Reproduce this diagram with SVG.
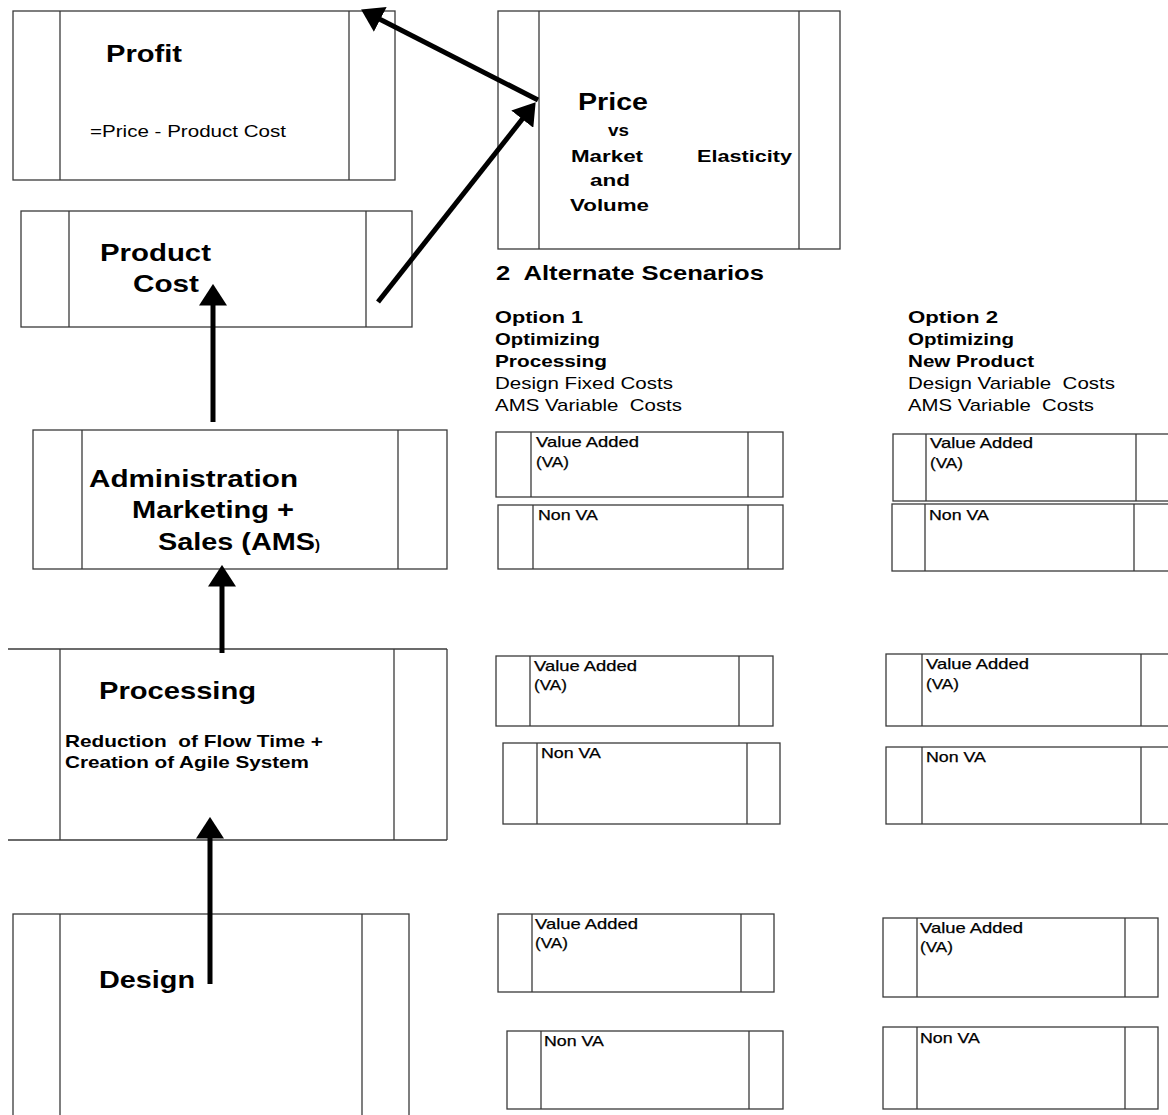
<svg xmlns="http://www.w3.org/2000/svg" width="1168" height="1115" viewBox="0 0 1168 1115">
<style>
.box{fill:none;stroke:#3a3a3a;stroke-width:1.3}
.t{font-family:"Liberation Sans",Arial,sans-serif;fill:#000;white-space:pre}
.b{font-weight:bold}
.h{font-size:24px;font-weight:bold}
.m{font-size:17px}
.s{font-size:15px;stroke:#000;stroke-width:0.25}
.arr{stroke:#000;stroke-width:5;fill:none;marker-end:url(#ah)}
</style>
<defs>
<marker id="ah" markerUnits="userSpaceOnUse" markerWidth="22" markerHeight="28" viewBox="0 0 20 26" refX="6" refY="13" orient="auto">
<path d="M0,0 L20,13 L0,26 z" fill="#000"/>
</marker>
</defs>
<rect width="1168" height="1115" fill="#fff"/>

<g id="profit">
<rect class="box" x="13" y="11" width="382" height="169"/>
<line class="box" x1="60" y1="11" x2="60" y2="180"/>
<line class="box" x1="349" y1="11" x2="349" y2="180"/>
<text class="t h" x="106" y="62" textLength="76" lengthAdjust="spacingAndGlyphs">Profit</text>
<text class="t m" x="90" y="137" textLength="196" lengthAdjust="spacingAndGlyphs">=Price - Product Cost</text>
</g>

<g id="price">
<rect class="box" x="498" y="11" width="342" height="238"/>
<line class="box" x1="539" y1="11" x2="539" y2="249"/>
<line class="box" x1="799" y1="11" x2="799" y2="249"/>
<text class="t h" x="578" y="110" textLength="70" lengthAdjust="spacingAndGlyphs">Price</text>
<text class="t m b" x="608" y="136" textLength="21" lengthAdjust="spacingAndGlyphs">vs</text>
<text class="t m b" x="571" y="162" textLength="72" lengthAdjust="spacingAndGlyphs">Market</text>
<text class="t m b" x="590" y="186" textLength="40" lengthAdjust="spacingAndGlyphs">and</text>
<text class="t m b" x="570" y="211" textLength="79" lengthAdjust="spacingAndGlyphs">Volume</text>
<text class="t m b" x="697" y="162" textLength="95" lengthAdjust="spacingAndGlyphs">Elasticity</text>
</g>

<g id="scenarios-title">
<text class="t b" font-size="20" x="496" y="280" textLength="268" lengthAdjust="spacingAndGlyphs">2  Alternate Scenarios</text>
</g>

<g id="product-cost">
<rect class="box" x="21" y="211" width="391" height="116"/>
<line class="box" x1="69" y1="211" x2="69" y2="327"/>
<line class="box" x1="366" y1="211" x2="366" y2="327"/>
<text class="t h" x="100" y="261" textLength="111" lengthAdjust="spacingAndGlyphs">Product</text>
<text class="t h" x="133" y="292" textLength="66" lengthAdjust="spacingAndGlyphs">Cost</text>
</g>

<g id="ams">
<rect class="box" x="33" y="430" width="414" height="139"/>
<line class="box" x1="82" y1="430" x2="82" y2="569"/>
<line class="box" x1="398" y1="430" x2="398" y2="569"/>
<text class="t h" x="89" y="487" textLength="209" lengthAdjust="spacingAndGlyphs">Administration</text>
<text class="t h" x="132" y="518" textLength="162" lengthAdjust="spacingAndGlyphs">Marketing +</text>
<text class="t h" x="158" y="550" textLength="157" lengthAdjust="spacingAndGlyphs">Sales (AMS</text>
<text class="t b" font-size="15" x="315" y="550">)</text>
</g>

<g id="processing">
<line class="box" x1="8" y1="649" x2="447" y2="649"/>
<line class="box" x1="8" y1="840" x2="447" y2="840"/>
<line class="box" x1="60" y1="649" x2="60" y2="840"/>
<line class="box" x1="394" y1="649" x2="394" y2="840"/>
<line class="box" x1="447" y1="649" x2="447" y2="840"/>
<text class="t h" x="99" y="699" textLength="157" lengthAdjust="spacingAndGlyphs">Processing</text>
<text class="t m b" x="65" y="747" textLength="258" lengthAdjust="spacingAndGlyphs">Reduction  of Flow Time +</text>
<text class="t m b" x="65" y="768" textLength="244" lengthAdjust="spacingAndGlyphs">Creation of Agile System</text>
</g>

<g id="design">
<rect class="box" x="13" y="914" width="396" height="230"/>
<line class="box" x1="60" y1="914" x2="60" y2="1115"/>
<line class="box" x1="362" y1="914" x2="362" y2="1115"/>
<text class="t h" x="99" y="988" textLength="96" lengthAdjust="spacingAndGlyphs">Design</text>
</g>

<g id="option1-header">
<text class="t m b" x="495" y="323" textLength="88" lengthAdjust="spacingAndGlyphs">Option 1</text>
<text class="t m b" x="495" y="345" textLength="105" lengthAdjust="spacingAndGlyphs">Optimizing</text>
<text class="t m b" x="495" y="367" textLength="112" lengthAdjust="spacingAndGlyphs">Processing</text>
<text class="t m" x="495" y="389" textLength="178" lengthAdjust="spacingAndGlyphs">Design Fixed Costs</text>
<text class="t m" x="495" y="411" textLength="187" lengthAdjust="spacingAndGlyphs">AMS Variable  Costs</text>
</g>

<g id="option2-header">
<text class="t m b" x="908" y="323" textLength="90" lengthAdjust="spacingAndGlyphs">Option 2</text>
<text class="t m b" x="908" y="345" textLength="106" lengthAdjust="spacingAndGlyphs">Optimizing</text>
<text class="t m b" x="908" y="367" textLength="126" lengthAdjust="spacingAndGlyphs">New Product</text>
<text class="t m" x="908" y="389" textLength="207" lengthAdjust="spacingAndGlyphs">Design Variable  Costs</text>
<text class="t m" x="908" y="411" textLength="186" lengthAdjust="spacingAndGlyphs">AMS Variable  Costs</text>
</g>

<g id="o1-r1-va">
<rect class="box" x="496" y="432" width="287" height="65"/>
<line class="box" x1="531" y1="432" x2="531" y2="497"/>
<line class="box" x1="748" y1="432" x2="748" y2="497"/>
<text class="t s" x="536" y="447" textLength="103" lengthAdjust="spacingAndGlyphs">Value Added</text>
<text class="t s" x="536" y="467" textLength="33" lengthAdjust="spacingAndGlyphs">(VA)</text>
</g>
<g id="o1-r1-nva">
<rect class="box" x="498" y="505" width="285" height="64"/>
<line class="box" x1="533" y1="505" x2="533" y2="569"/>
<line class="box" x1="748" y1="505" x2="748" y2="569"/>
<text class="t s" x="538" y="520" textLength="60" lengthAdjust="spacingAndGlyphs">Non VA</text>
</g>
<g id="o2-r1-va">
<rect class="box" x="893" y="434" width="290" height="67"/>
<line class="box" x1="926" y1="434" x2="926" y2="501"/>
<line class="box" x1="1136" y1="434" x2="1136" y2="501"/>
<text class="t s" x="930" y="448" textLength="103" lengthAdjust="spacingAndGlyphs">Value Added</text>
<text class="t s" x="930" y="468" textLength="33" lengthAdjust="spacingAndGlyphs">(VA)</text>
</g>
<g id="o2-r1-nva">
<rect class="box" x="892" y="504" width="290" height="67"/>
<line class="box" x1="925" y1="504" x2="925" y2="571"/>
<line class="box" x1="1134" y1="504" x2="1134" y2="571"/>
<text class="t s" x="929" y="520" textLength="60" lengthAdjust="spacingAndGlyphs">Non VA</text>
</g>

<g id="o1-r2-va">
<rect class="box" x="496" y="656" width="277" height="70"/>
<line class="box" x1="530" y1="656" x2="530" y2="726"/>
<line class="box" x1="739" y1="656" x2="739" y2="726"/>
<text class="t s" x="534" y="671" textLength="103" lengthAdjust="spacingAndGlyphs">Value Added</text>
<text class="t s" x="534" y="690" textLength="33" lengthAdjust="spacingAndGlyphs">(VA)</text>
</g>
<g id="o1-r2-nva">
<rect class="box" x="503" y="743" width="277" height="81"/>
<line class="box" x1="537" y1="743" x2="537" y2="824"/>
<line class="box" x1="747" y1="743" x2="747" y2="824"/>
<text class="t s" x="541" y="758" textLength="60" lengthAdjust="spacingAndGlyphs">Non VA</text>
</g>
<g id="o2-r2-va">
<rect class="box" x="886" y="654" width="300" height="72"/>
<line class="box" x1="922" y1="654" x2="922" y2="726"/>
<line class="box" x1="1141" y1="654" x2="1141" y2="726"/>
<text class="t s" x="926" y="669" textLength="103" lengthAdjust="spacingAndGlyphs">Value Added</text>
<text class="t s" x="926" y="689" textLength="33" lengthAdjust="spacingAndGlyphs">(VA)</text>
</g>
<g id="o2-r2-nva">
<rect class="box" x="886" y="747" width="300" height="77"/>
<line class="box" x1="922" y1="747" x2="922" y2="824"/>
<line class="box" x1="1141" y1="747" x2="1141" y2="824"/>
<text class="t s" x="926" y="762" textLength="60" lengthAdjust="spacingAndGlyphs">Non VA</text>
</g>

<g id="o1-r3-va">
<rect class="box" x="498" y="914" width="276" height="78"/>
<line class="box" x1="532" y1="914" x2="532" y2="992"/>
<line class="box" x1="741" y1="914" x2="741" y2="992"/>
<text class="t s" x="535" y="929" textLength="103" lengthAdjust="spacingAndGlyphs">Value Added</text>
<text class="t s" x="535" y="948" textLength="33" lengthAdjust="spacingAndGlyphs">(VA)</text>
</g>
<g id="o1-r3-nva">
<rect class="box" x="507" y="1031" width="276" height="78"/>
<line class="box" x1="541" y1="1031" x2="541" y2="1109"/>
<line class="box" x1="749" y1="1031" x2="749" y2="1109"/>
<text class="t s" x="544" y="1046" textLength="60" lengthAdjust="spacingAndGlyphs">Non VA</text>
</g>
<g id="o2-r3-va">
<rect class="box" x="883" y="918" width="275" height="79"/>
<line class="box" x1="917" y1="918" x2="917" y2="997"/>
<line class="box" x1="1125" y1="918" x2="1125" y2="997"/>
<text class="t s" x="920" y="933" textLength="103" lengthAdjust="spacingAndGlyphs">Value Added</text>
<text class="t s" x="920" y="952" textLength="33" lengthAdjust="spacingAndGlyphs">(VA)</text>
</g>
<g id="o2-r3-nva">
<rect class="box" x="883" y="1027" width="275" height="82"/>
<line class="box" x1="917" y1="1027" x2="917" y2="1109"/>
<line class="box" x1="1125" y1="1027" x2="1125" y2="1109"/>
<text class="t s" x="920" y="1043" textLength="60" lengthAdjust="spacingAndGlyphs">Non VA</text>
</g>

<g id="connectors">
<line class="arr" x1="538" y1="100" x2="374.5" y2="16.4"/>
<line class="arr" x1="378" y1="302" x2="526.3" y2="114"/>
<line class="arr" x1="213" y1="422" x2="213" y2="299"/>
<line class="arr" x1="222" y1="653" x2="222" y2="580"/>
<line class="arr" x1="210" y1="984" x2="210" y2="832"/>
</g>
</svg>
